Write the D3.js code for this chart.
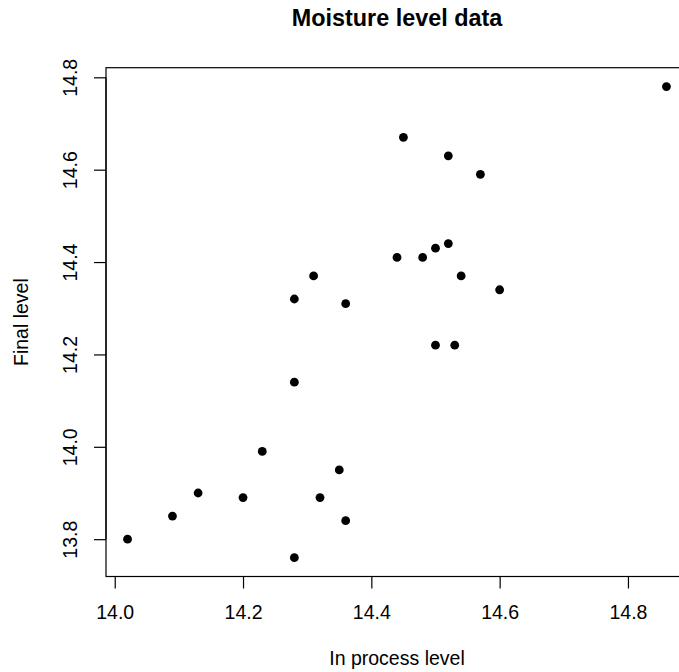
<!DOCTYPE html>
<html>
<head>
<meta charset="utf-8">
<script src="https://cdn.jsdelivr.net/npm/d3@7"></script>
<style>
  body { margin: 0; background: #fff; }
  svg text { font-family: "Liberation Sans", Arial, Helvetica, sans-serif; fill: #000; }
  .tick line { stroke: #000; stroke-width: 1.2; }
</style>
</head>
<body>
<div id="chart"></div>
<script>
const inProcess = [14.02, 14.09, 14.13, 14.20, 14.23, 14.28, 14.28, 14.28, 14.31, 14.32, 14.35, 14.36, 14.36,
  14.44, 14.45, 14.48, 14.50, 14.50, 14.52, 14.52, 14.53, 14.54, 14.57, 14.60, 14.86]
const finalLevel = [13.80, 13.85, 13.90, 13.89, 13.99, 14.32, 14.14, 13.76, 14.37, 13.89, 13.95, 14.31, 13.84,
  14.41, 14.67, 14.41, 14.43, 14.22, 14.63, 14.44, 14.22, 14.37, 14.59, 14.34, 14.78]
const xTicks = [14.0, 14.2, 14.4, 14.6, 14.8]
const yTicks = [13.8, 14.0, 14.2, 14.4, 14.6, 14.8]

const width = 679
const height = 672
const plot = { left: 106, right: 688, top: 67.7, bottom: 576.5 }

const svg = d3.select('#chart').append('svg')
  .attr('width', width)
  .attr('height', height)

// R style 4% padding around the data range
const pad = (ext) => {
  const d = (ext[1] - ext[0]) * 0.04
  return [ext[0] - d, ext[1] + d]
}

const x = d3.scaleLinear()
  .domain(pad(d3.extent(inProcess)))
  .range([plot.left, plot.right])

const y = d3.scaleLinear()
  .domain(pad(d3.extent(finalLevel)))
  .range([plot.bottom, plot.top])

// box
svg.append('rect')
  .attr('x', plot.left)
  .attr('y', plot.top)
  .attr('width', plot.right - plot.left)
  .attr('height', plot.bottom - plot.top)
  .attr('fill', 'none')
  .attr('stroke', '#000')
  .attr('stroke-width', 1.2)

// x axis
const xAxis = svg.append('g')
  .attr('transform', `translate(0, ${plot.bottom})`)
  .call(d3.axisBottom(x).tickValues(xTicks).tickSize(12).tickFormat(d3.format('.1f')))
xAxis.select('.domain').remove()
xAxis.append('line')
  .attr('x1', x(xTicks[0])).attr('x2', x(xTicks[xTicks.length - 1]))
  .attr('stroke', '#000').attr('stroke-width', 1.2)
xAxis.selectAll('text')
  .attr('y', 42.8)
  .attr('dy', 0)
  .style('font-size', '19.5px')
  .style('font-family', '"Liberation Sans", Arial, sans-serif')
  .attr('fill', '#000')

// y axis
const yAxis = svg.append('g')
  .attr('transform', `translate(${plot.left}, 0)`)
  .call(d3.axisLeft(y).tickValues(yTicks).tickSize(12).tickFormat(d3.format('.1f')))
yAxis.select('.domain').remove()
yAxis.append('line')
  .attr('y1', y(yTicks[0])).attr('y2', y(yTicks[yTicks.length - 1]))
  .attr('stroke', '#000').attr('stroke-width', 1.2)
yAxis.selectAll('text')
  .attr('transform', 'rotate(-90)')
  .attr('x', 0)
  .attr('y', -28.7)
  .attr('dy', 0)
  .attr('text-anchor', 'middle')
  .style('font-size', '19.5px')
  .style('font-family', '"Liberation Sans", Arial, sans-serif')
  .attr('fill', '#000')

// points
svg.append('g').selectAll('circle')
  .data(inProcess.map((v, i) => ({ a: v, b: finalLevel[i] })))
  .enter().append('circle')
  .attr('cx', d => x(d.a))
  .attr('cy', d => y(d.b))
  .attr('r', 4.4)
  .attr('fill', '#000')

// titles
const midX = (plot.left + plot.right) / 2
svg.append('text')
  .attr('x', midX)
  .attr('y', 26)
  .attr('text-anchor', 'middle')
  .style('font-size', '23.4px')
  .style('font-weight', 'bold')
  .text('Moisture level data')

svg.append('text')
  .attr('x', midX)
  .attr('y', 665)
  .attr('text-anchor', 'middle')
  .style('font-size', '19.5px')
  .text('In process level')

svg.append('text')
  .attr('transform', `translate(27.5, ${(plot.top + plot.bottom) / 2}) rotate(-90)`)
  .attr('text-anchor', 'middle')
  .style('font-size', '19.5px')
  .text('Final level')
</script>
</body>
</html>
